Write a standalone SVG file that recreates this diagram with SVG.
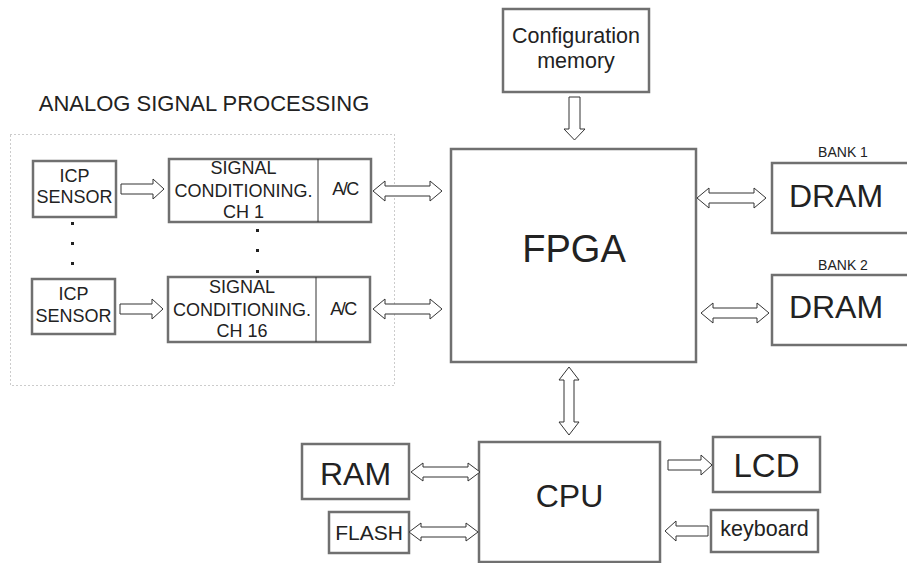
<svg xmlns="http://www.w3.org/2000/svg" width="907" height="563" viewBox="0 0 907 563">
<style>
.box{fill:#fff;stroke:#707070;stroke-width:2.5}
.div{stroke:#333;stroke-width:1}
.arr{fill:#fff;stroke:#333;stroke-width:1;stroke-linejoin:miter}
text{font-family:"Liberation Sans",Arial,sans-serif;fill:#222;text-anchor:middle}
.s18{font-size:18px}
.dot{fill:#222}
</style>
<rect width="907" height="563" fill="#fff"/>
<g id="analog-group">
<text x="204" y="111" style="font-size:22px" fill="#333">ANALOG SIGNAL PROCESSING</text>
<rect x="10.5" y="134.5" width="384" height="251" fill="none" stroke="#999" stroke-width="1" stroke-dasharray="1,3"/>
</g>
<g id="icp1">
<rect class="box" x="33" y="161" width="83" height="56"/>
<text class="s18" x="74.5" y="182">ICP</text>
<text class="s18" x="74.5" y="203">SENSOR</text>
</g>
<g id="icp2">
<rect class="box" x="32" y="279" width="83" height="55"/>
<text class="s18" x="73.5" y="300">ICP</text>
<text class="s18" x="73.5" y="322">SENSOR</text>
</g>
<g id="dots">
<rect class="dot" x="71" y="222" width="3" height="3"/>
<rect class="dot" x="71" y="242" width="3" height="3"/>
<rect class="dot" x="71" y="262" width="3" height="3"/>
<rect class="dot" x="256" y="229" width="3" height="3"/>
<rect class="dot" x="256" y="249" width="3" height="3"/>
<rect class="dot" x="256" y="270" width="3" height="3"/>
</g>
<g id="sig1">
<rect class="box" x="169" y="159" width="202" height="63"/>
<line class="div" x1="318" y1="159" x2="318" y2="222"/>
<text class="s18" x="243.5" y="174">SIGNAL</text>
<text class="s18" x="243.5" y="197">CONDITIONING.</text>
<text class="s18" x="243.5" y="218">CH 1</text>
<text class="s18" x="345" y="195" letter-spacing="-1.5">A/C</text>
</g>
<g id="sig2">
<rect class="box" x="168" y="277" width="202" height="65"/>
<line class="div" x1="316" y1="277" x2="316" y2="342"/>
<text class="s18" x="242" y="293">SIGNAL</text>
<text class="s18" x="242" y="316">CONDITIONING.</text>
<text class="s18" x="242" y="337">CH 16</text>
<text class="s18" x="343" y="315" letter-spacing="-1.5">A/C</text>
</g>
<g id="config">
<rect class="box" x="503" y="9" width="146" height="83"/>
<text x="576" y="43" style="font-size:21.5px">Configuration</text>
<text x="576" y="68" style="font-size:21.5px">memory</text>
</g>
<g id="fpga">
<rect class="box" x="451" y="149" width="245" height="213"/>
<text x="574" y="262" style="font-size:38px">FPGA</text>
</g>
<g id="dram1">
<text x="843" y="157" style="font-size:14px">BANK 1</text>
<rect class="box" x="772" y="163" width="140" height="70"/>
<text x="836" y="207" style="font-size:32px">DRAM</text>
</g>
<g id="dram2">
<text x="843" y="270" style="font-size:14px">BANK 2</text>
<rect class="box" x="772" y="275" width="140" height="70"/>
<text x="836" y="318" style="font-size:32px">DRAM</text>
</g>
<g id="cpu">
<rect class="box" x="479" y="442" width="181" height="120"/>
<text x="569.5" y="507" style="font-size:32px">CPU</text>
</g>
<g id="ram">
<rect class="box" x="302" y="444" width="107" height="55"/>
<text x="355.5" y="485" style="font-size:32px">RAM</text>
</g>
<g id="flash">
<rect class="box" x="329" y="512" width="80" height="41"/>
<text x="369" y="540" style="font-size:21px">FLASH</text>
</g>
<g id="lcd">
<rect class="box" x="713" y="437" width="107" height="55"/>
<text x="766.5" y="477" style="font-size:33px">LCD</text>
</g>
<g id="keyboard">
<rect class="box" x="711" y="510" width="107" height="42"/>
<text x="764.5" y="536" style="font-size:21.5px">keyboard</text>
</g>
<g id="connectors">
<path class="arr" d="M121,184 H153 V179 L164,189 L153,199 V194 H121 Z"/>
<path class="arr" d="M120,304 H152 V299 L163,309 L152,319 V314 H120 Z"/>
<path class="arr" d="M373,191 L385,181 V186 H430 V181 L442,191 L430,201 V196 H385 V201 Z"/>
<path class="arr" d="M373,309 L385,299 V304 H430 V299 L442,309 L430,319 V314 H385 V319 Z"/>
<path class="arr" d="M569,97 H580 V129 H585 L574.5,140 L564,129 H569 Z"/>
<path class="arr" d="M697,198 L709,188 V193 H754 V188 L766,198 L754,208 V203 H709 V208 Z"/>
<path class="arr" d="M701,313 L713,303 V308 H757 V303 L769,313 L757,323 V318 H713 V323 Z"/>
<path class="arr" d="M569,367 L579,380 H574 V422 H579 L569,435 L559,422 H564 V380 H559 Z"/>
<path class="arr" d="M411,472 L423,463 V467 H468 V463 L480,472 L468,481 V477 H423 V481 Z"/>
<path class="arr" d="M409,532 L421,523 V527 H466 V523 L478,532 L466,541 V537 H421 V541 Z"/>
<path class="arr" d="M668,460 H701 V455 L712,465 L701,475 V470 H668 Z"/>
<path class="arr" d="M708,526 H676 V521 L665,531 L676,541 V536 H708 Z"/>
</g>
</svg>
